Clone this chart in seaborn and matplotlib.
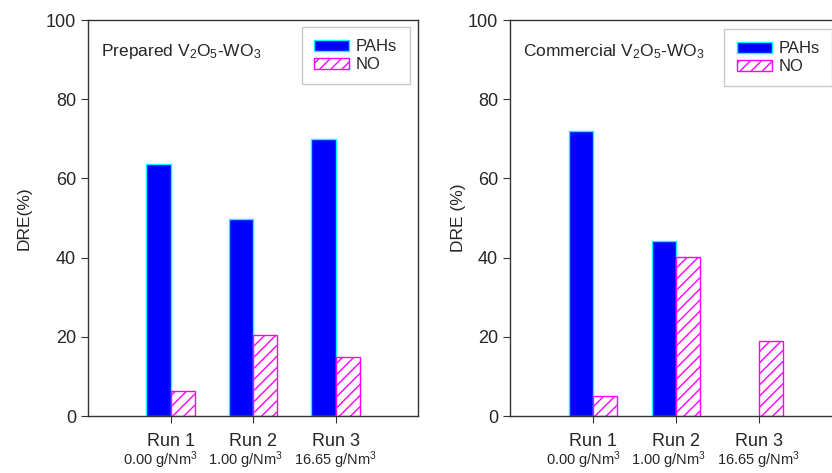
import numpy as np
import pandas as pd
import matplotlib
matplotlib.use("Agg")
import matplotlib.pyplot as plt
import seaborn as sns

runs = ["Run 1", "Run 2", "Run 3"]
doses = ["0.00 g/Nm$^3$", "1.00 g/Nm$^3$", "16.65 g/Nm$^3$"]
species = ["PAHs", "NO"]

prep_pahs = [63.6, 49.7, 69.9]
prep_no = [6.4, 20.5, 14.9]
comm_pahs = [72.0, 44.1, np.nan]
comm_no = [5.0, 40.1, 19.0]

panels = [
    ("Prepared V$_2$O$_5$-WO$_3$", "DRE(%)", prep_pahs, prep_no),
    ("Commercial V$_2$O$_5$-WO$_3$", "DRE (%)", comm_pahs, comm_no),
]

sns.set_style("ticks")
plt.rcParams["font.family"] = ["Liberation Sans", "DejaVu Sans"]
plt.rcParams["mathtext.fontset"] = "custom"
plt.rcParams["mathtext.rm"] = "Liberation Sans"
plt.rcParams["mathtext.it"] = "Liberation Sans"
plt.rcParams["hatch.linewidth"] = 1.0
plt.rcParams["hatch.color"] = "magenta"

fig = plt.figure(figsize=(8.32, 4.73), dpi=100)
positions = [[0.1058, 0.1205, 0.3966, 0.8372], [0.6130, 0.1205, 0.3990, 0.8372]]
label_x = [-0.17, -0.133]
leg_anchor = [(0.99, 0.995), (0.985, 0.99)]
dose_shift = [-0.12, -0.09, 0.0]

for k, (pos, (title, ylab, pahs, no)) in enumerate(zip(positions, panels)):
    ax = fig.add_axes(pos)
    df = pd.DataFrame({
        "run": runs * 2,
        "species": ["PAHs"] * 3 + ["NO"] * 3,
        "dre": list(pahs) + list(no),
    })
    sns.barplot(data=df, x="run", y="dre", hue="species", order=runs,
                hue_order=species, palette={"PAHs": "blue", "NO": "white"},
                width=0.59, gap=0, legend=False, ax=ax, saturation=1)
    for cont, sp in zip(ax.containers, species):
        for bar in cont:
            if sp == "PAHs":
                bar.set_edgecolor("cyan")
            else:
                bar.set_edgecolor("magenta")
                bar.set_hatch("///")
            bar.set_linewidth(1.0)
    ax.set_xlim(-1, 3)
    ax.set_ylim(0, 100)
    ax.set_yticks([0, 20, 40, 60, 80, 100])
    ax.set_xlabel("")
    ax.set_ylabel(ylab, fontsize=12.5)
    ax.yaxis.set_label_coords(label_x[k], 0.5)
    ax.tick_params(axis="both", labelsize=13, direction="out", length=5,
                   color="#333333")
    ax.set_xticks(range(3))
    ax.set_xticklabels(runs, fontsize=13)
    ax.tick_params(axis="x", pad=7)
    for i, d in enumerate(doses):
        ax.text(i + dose_shift[i], -0.138, d, transform=ax.get_xaxis_transform(),
                ha="center", va="bottom", fontsize=10.5)
    for s in ax.spines.values():
        s.set_color("#333333")
        s.set_linewidth(1.0)
    ax.text(0.04, 0.92, title, transform=ax.transAxes, fontsize=12.5,
            ha="left", va="center")
    handles = [ax.containers[0][0], ax.containers[1][0]]
    leg = ax.legend(handles, species, loc="upper right",
                    bbox_to_anchor=leg_anchor[k],
                    fontsize=12, frameon=True, fancybox=False,
                    handlelength=2.1, handleheight=0.65, handletextpad=0.4,
                    labelspacing=0.15, borderpad=0.75, borderaxespad=0.3)
    leg.get_frame().set_edgecolor("#bbbbbb")
    leg.get_frame().set_linewidth(1.0)

fig.savefig("out.png", dpi=100)
